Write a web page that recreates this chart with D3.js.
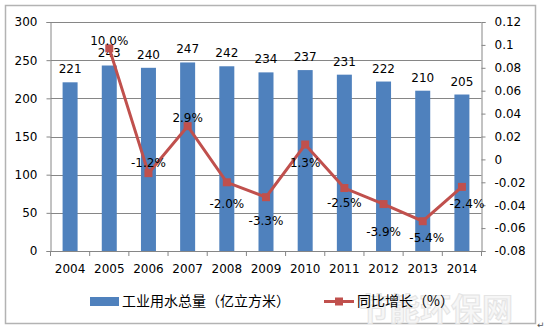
<!DOCTYPE html>
<html><head><meta charset="utf-8">
<script src="https://cdn.jsdelivr.net/npm/d3@7"></script>
<style>body{margin:0;background:#fff}svg{display:block}</style>
</head><body><svg id="c" width="544" height="332"></svg>
<script>
const years = ["2004","2005","2006","2007","2008","2009","2010","2011","2012","2013","2014"];
const waterUse = [221,243,240,247,242,234,237,231,222,210,205];
const growth = [null,0.097,-0.012,0.029,-0.020,-0.033,0.013,-0.025,-0.039,-0.054,-0.024];
const growthLabels = [null,"10.0%","-1.2%","2.9%","-2.0%","-3.3%","1.3%","-2.5%","-3.9%","-5.4%","-2.4%"];
const leftTicks = [0,50,100,150,200,250,300];
const rightTicks = [-0.08,-0.06,-0.04,-0.02,0,0.02,0.04,0.06,0.08,0.1,0.12];
const rightTickLabels = ["-0.08","-0.06","-0.04","-0.02","0","0.02","0.04","0.06","0.08","0.1","0.12"];
const legendNames = ["工业用水总量（亿立方米）","同比增长（%）"];

const svg = d3.select("#c");
const font = "'DejaVu Sans', sans-serif";
const cjk = "'Noto Sans CJK SC', sans-serif";
const blue = "#4F81BD", red = "#C0504D";
const L = 50.5, R = 481.5, T = 22, B = 251;
// label placement offsets (styling), per line point index
const lblDy = {1:-3,2:-6,3:-4,4:26,5:28,6:22,7:19,8:32,9:21,10:21};
const lblDx = {9:4,10:5};

svg.append("rect").attr("x",5.5).attr("y",5.5).attr("width",530).attr("height",318)
  .attr("fill","#fff").attr("stroke","#b3b3b3").attr("stroke-width",1.5);

// watermark (behind everything)
svg.append("text").attr("x",358).attr("y",320).attr("font-family",cjk).attr("font-size",31).attr("font-weight","bold")
  .attr("fill","#f6f6f6").attr("stroke","#e4e4e4").attr("stroke-width",1).text("节能环保网");

const x = d3.scaleBand().domain(years).range([L,R]);
const yL = d3.scaleLinear().domain([0,300]).range([B,T]);
const yR = d3.scaleLinear().domain([-0.08,0.12]).range([B,T]);

// gridlines
svg.append("g").selectAll("line").data(leftTicks.filter(d=>d>0)).join("line")
  .attr("x1",L).attr("x2",R).attr("y1",d=>Math.round(yL(d))+0.5).attr("y2",d=>Math.round(yL(d))+0.5)
  .attr("stroke","#868686").attr("stroke-width",1);

// bars
const bw = 15;
svg.append("g").selectAll("rect").data(years).join("rect")
  .attr("x",(d)=>x(d)+x.bandwidth()/2-bw/2).attr("width",bw)
  .attr("y",(d,i)=>yL(waterUse[i])).attr("height",(d,i)=>B-yL(waterUse[i]))
  .attr("fill",blue);

// axes
const gl = svg.append("g").attr("transform",`translate(${L},0)`)
  .call(d3.axisLeft(yL).tickValues(leftTicks).tickSize(4).tickPadding(9));
const gr = svg.append("g").attr("transform",`translate(${R},0)`)
  .call(d3.axisRight(yR).tickValues(rightTicks).tickSize(4).tickPadding(9).tickFormat((d,i)=>rightTickLabels[i]));
const gx = svg.append("g").attr("transform",`translate(0,${B})`)
  .call(d3.axisBottom(x).tickSize(0).tickPadding(13));
[gl,gr,gx].forEach(g=>{
  g.selectAll("path").attr("stroke","#868686").attr("stroke-width",1);
  g.selectAll("line").attr("stroke","#868686");
  g.selectAll("text").attr("font-family",font).attr("font-size",12).attr("fill","#000");
});
gx.select(".domain").attr("d",`M${L},0.5H${R}`);
// category boundary ticks
svg.append("g").selectAll("line").data(d3.range(years.length+1)).join("line")
  .attr("x1",i=>L+i*x.step()).attr("x2",i=>L+i*x.step())
  .attr("y1",B).attr("y2",B+5).attr("stroke","#868686");

// bar labels
svg.append("g").selectAll("text").data(years).join("text")
  .attr("x",d=>x(d)+x.bandwidth()/2).attr("y",(d,i)=>yL(waterUse[i])-9)
  .attr("text-anchor","middle").attr("font-family",font).attr("font-size",12).attr("fill","#000")
  .text((d,i)=>waterUse[i]);

// line
const pts = years.map((d,i)=>({d,i,v:growth[i]})).filter(p=>p.v!==null);
const line = d3.line().x(p=>x(p.d)+x.bandwidth()/2).y(p=>yR(p.v));
svg.append("path").datum(pts).attr("d",line).attr("fill","none").attr("stroke",red).attr("stroke-width",3);
svg.append("g").selectAll("rect").data(pts).join("rect")
  .attr("x",p=>x(p.d)+x.bandwidth()/2-4).attr("y",p=>yR(p.v)-4).attr("width",8).attr("height",8)
  .attr("fill",red);
svg.append("g").selectAll("text").data(pts).join("text")
  .attr("x",p=>x(p.d)+x.bandwidth()/2+(lblDx[p.i]||0))
  .attr("y",p=>yR(p.v)+lblDy[p.i])
  .attr("text-anchor","middle").attr("font-family",font).attr("font-size",12).attr("fill","#000")
  .text(p=>growthLabels[p.i]);

// legend
svg.append("rect").attr("x",90).attr("y",297).attr("width",29).attr("height",9).attr("fill",blue);
svg.append("text").attr("x",122).attr("y",306).attr("font-family",cjk).attr("font-size",14).attr("fill","#000").text(legendNames[0]);
svg.append("line").attr("x1",324).attr("x2",354).attr("y1",301.5).attr("y2",301.5).attr("stroke",red).attr("stroke-width",3);
svg.append("rect").attr("x",335).attr("y",297.5).attr("width",8).attr("height",8).attr("fill",red);
svg.append("text").attr("x",357).attr("y",306).attr("font-family",cjk).attr("font-size",14).attr("fill","#000").text(legendNames[1]);

svg.append("text").attr("x",537).attr("y",328).attr("font-family",font).attr("font-size",9).attr("fill","#555").text("↵");
</script></body></html>
